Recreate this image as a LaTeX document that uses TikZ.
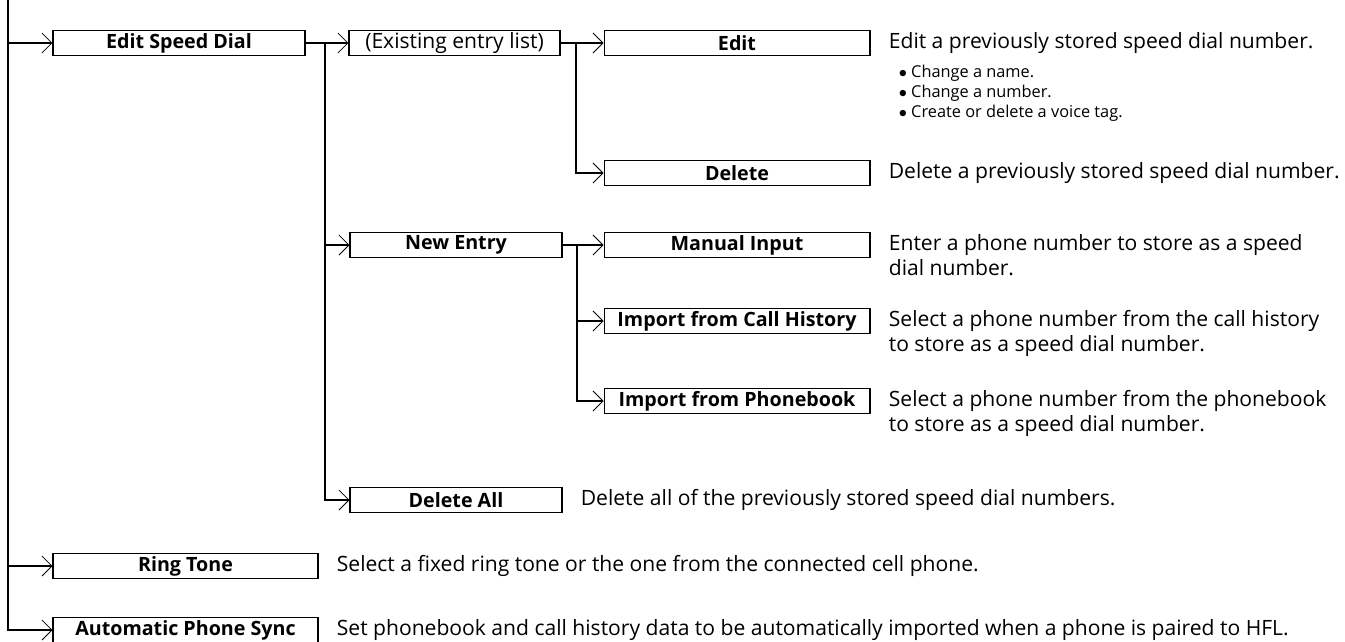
\documentclass[tikz,border=0pt]{standalone}
\usepackage{fontspec}
\setmainfont{Open Sans}
\usetikzlibrary{arrows.meta, positioning}

\begin{document}
\begin{tikzpicture}[
    x=0.02cm, y=-0.02cm,
    node distance=0.36cm,
    menu/.style={draw=black, line width=0.6pt, minimum height=0.5cm, inner sep=0pt, font=\fontsize{11.2}{12}\selectfont\bfseries},
    desc/.style={anchor=north west, inner sep=0pt, align=left, yshift=-0.05cm, font=\fontsize{12}{14.2}\selectfont},
    note/.style={anchor=north west, inner sep=0pt, align=left, font=\fontsize{9.3}{10}\selectfont},
    arrow/.style={line width=1.1pt, -{Straight Barb[length=0.2cm, width=0.4cm, line width=0.5pt]}}
]
\useasboundingbox (0,0) rectangle (1345,642);

% menu boxes
\node[menu, minimum width=5.04cm] (esd) at (179,43) {Edit Speed Dial};
\node[menu, minimum width=4.22cm] (exist) at (454.5,43) {\fontsize{12}{12}\mdseries (Existing entry list)};
\node[menu, minimum width=5.32cm] (edit) at (737,43) {Edit};
\node[menu, minimum width=5.32cm] (delete) at (737,173) {Delete};
\node[menu, minimum width=4.24cm] (newentry) at (456,245) {New Entry};
\node[menu, minimum width=5.32cm] (manual) at (737,245) {Manual Input};
\node[menu, minimum width=5.32cm] (callhist) at (737,321) {Import from Call History};
\node[menu, minimum width=5.32cm] (phonebk) at (737,401) {Import from Phonebook};
\node[menu, minimum width=4.24cm] (delall) at (456,500) {Delete All};
\node[menu, minimum width=5.3cm] (ring) at (185.5,566) {Ring Tone};
\node[menu, minimum width=5.3cm] (auto) at (185.5,630) {Automatic Phone Sync};

% descriptions
\node[right=0.36cm of edit.north east, desc] (editdesc) {Edit a previously stored speed dial number.};
\node[below right=0.2cm and 0.2cm of editdesc.south west, note] (editnote) {$\bullet$ Change a name.\\[1.5pt] $\bullet$ Change a number.\\[1.5pt] $\bullet$ Create or delete a voice tag.};
\node[right=0.36cm of delete.north east, desc] (deletedesc) {Delete a previously stored speed dial number.};
\node[right=0.36cm of manual.north east, desc] (manualdesc) {Enter a phone number to store as a speed\\dial number.};
\node[right=0.36cm of callhist.north east, desc] (callhistdesc) {Select a phone number from the call history\\to store as a speed dial number.};
\node[right=0.36cm of phonebk.north east, desc] (phonebkdesc) {Select a phone number from the phonebook\\to store as a speed dial number.};
\node[right=0.36cm of delall.north east, desc] (delalldesc) {Delete all of the previously stored speed dial numbers.};
\node[right=0.36cm of ring.north east, desc] (ringdesc) {Select a fixed ring tone or the one from the connected cell phone.};
\node[right=0.36cm of auto.north east, desc] (autodesc) {Set phonebook and call history data to be automatically imported when a phone is paired to HFL.};

% connectors
\coordinate (root) at (8,0);
\coordinate (j1) at (325,43);
\coordinate (j2) at (576,43);
\coordinate (j3) at (577,245);

\draw[arrow] (root) |- (esd.west);
\draw[arrow] (root) |- (ring.west);
\draw[arrow] (root) |- (auto.west);

\draw[arrow] (esd.east) -- (exist.west);
\draw[arrow] (j1) |- (newentry.west);
\draw[arrow] (j1) |- (delall.west);

\draw[arrow] (exist.east) -- (edit.west);
\draw[arrow] (j2) |- (delete.west);

\draw[arrow] (newentry.east) -- (manual.west);
\draw[arrow] (j3) |- (callhist.west);
\draw[arrow] (j3) |- (phonebk.west);

\end{tikzpicture}
\end{document}
